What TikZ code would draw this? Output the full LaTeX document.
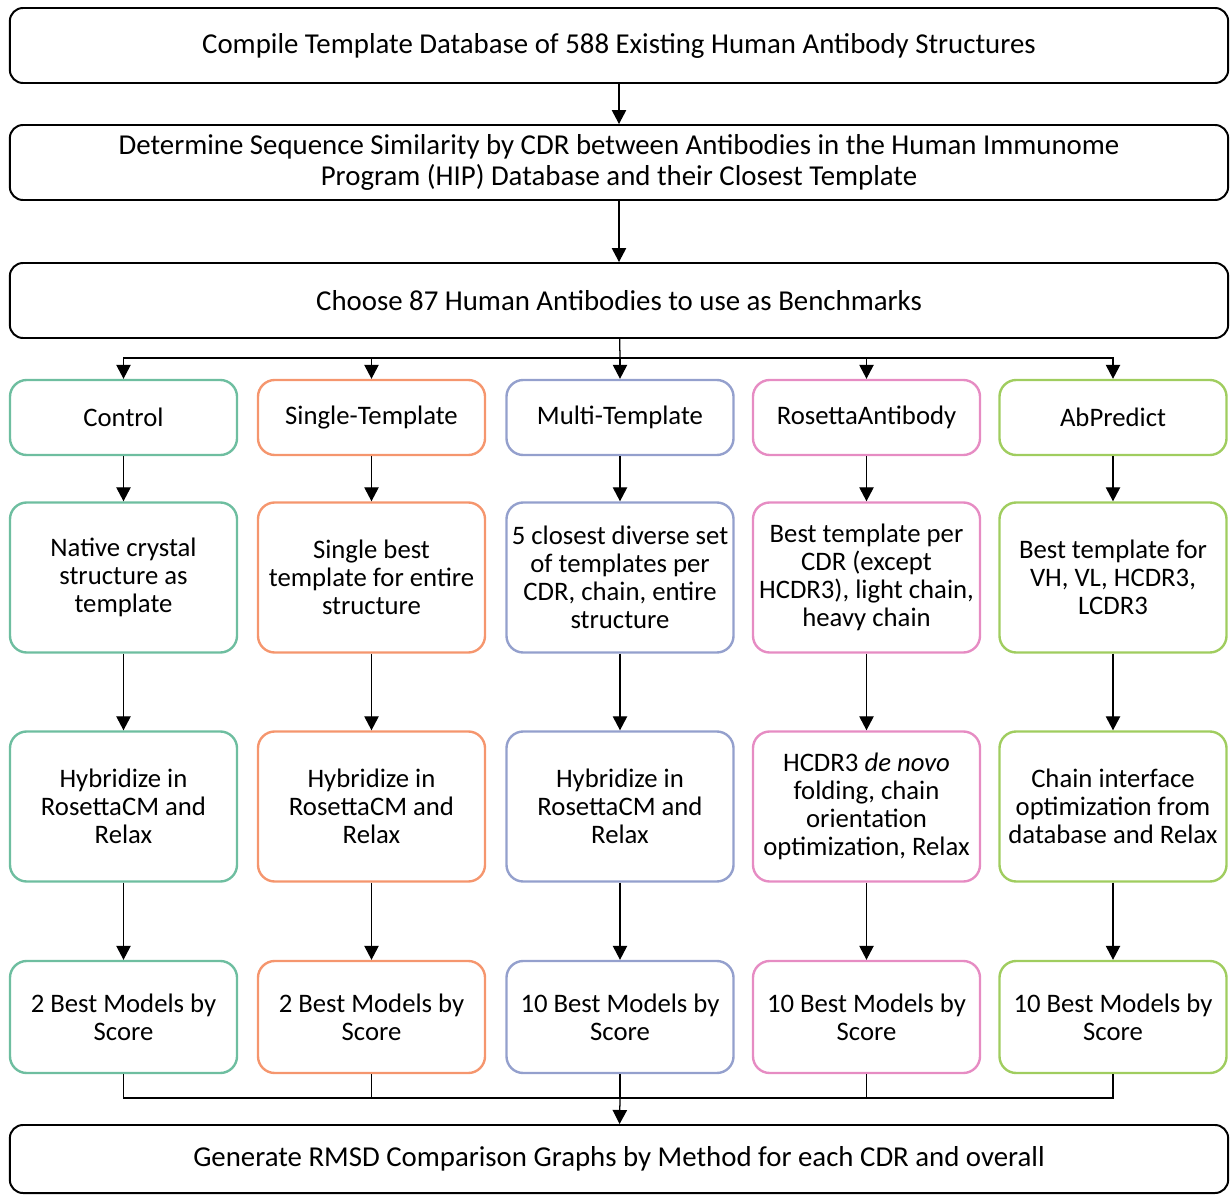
\documentclass[tikz,border=0pt]{standalone}
\usepackage{fontspec}
\setmainfont{Carlito}
\usetikzlibrary{arrows.meta}
\definecolor{ctlcol}{RGB}{110,190,160}
\definecolor{sglcol}{RGB}{245,150,110}
\definecolor{mltcol}{RGB}{148,160,205}
\definecolor{roscol}{RGB}{230,140,195}
\definecolor{abpcol}{RGB}{160,205,95}
\tikzset{
	stage/.style  = {draw, line width=1.4pt, rounded corners=0.33cm,
		minimum width=30.45cm, align=center,
		font=\fontsize{20.5}{21.5}\selectfont}, % black full-width step
	method/.style = {draw=#1, line width=1.7pt, rounded corners=0.42cm,
		minimum width=5.675cm, align=center, inner sep=2pt}, % coloured step
	rowa/.style   = {minimum height=1.875cm},
	rowb/.style   = {minimum height=3.75cm},
	rowc/.style   = {minimum height=2.8cm},
	flow/.style   = {line width=0.9pt, -{Triangle[length=0.35cm,width=0.36cm]}},
	link/.style   = {line width=0.9pt}
}

\begin{document}
\begin{tikzpicture}[x=0.025cm, y=-0.025cm, font=\fontsize{19}{20}\selectfont]
	\useasboundingbox (0,0) rectangle (1231,1195);
	% Full-width steps
	\node at (619,45.5)[stage, minimum height=1.875cm] (compile) {Compile Template Database of 588 Existing Human Antibody Structures};
	\node at (619,162.5)[stage, minimum height=1.875cm] (similar) {Determine Sequence Similarity by CDR between Antibodies in the Human Immunome\\Program (HIP) Database and their Closest Template};
	\node at (619,300.5)[stage, minimum height=1.875cm] (bench) {Choose 87 Human Antibodies to use as Benchmarks};
	\node at (619,1159)[stage, minimum height=1.7cm] (rmsd) {Generate RMSD Comparison Graphs by Method for each CDR and overall};
	
	% Control
	\node at (123.5,417.5)[method=ctlcol, rowa] (ctl1) {Control};
	\node at (123.5,577.5)[method=ctlcol, rowb] (ctl2) {Native crystal\\structure as\\template};
	\node at (123.5,806.5)[method=ctlcol, rowb] (ctl3) {Hybridize in\\RosettaCM and\\Relax};
	\node at (123.5,1017)[method=ctlcol, rowc] (ctl4) {2 Best Models by\\Score};
	
	% Single-Template
	\node at (371.5,417.5)[method=sglcol, rowa] (sgl1) {Single-Template};
	\node at (371.5,577.5)[method=sglcol, rowb] (sgl2) {Single best\\template for entire\\structure};
	\node at (371.5,806.5)[method=sglcol, rowb] (sgl3) {Hybridize in\\RosettaCM and\\Relax};
	\node at (371.5,1017)[method=sglcol, rowc] (sgl4) {2 Best Models by\\Score};
	
	% Multi-Template
	\node at (620,417.5)[method=mltcol, rowa] (mlt1) {Multi-Template};
	\node at (620,577.5)[method=mltcol, rowb] (mlt2) {5 closest diverse set\\of templates per\\CDR, chain, entire\\structure};
	\node at (620,806.5)[method=mltcol, rowb] (mlt3) {Hybridize in\\RosettaCM and\\Relax};
	\node at (620,1017)[method=mltcol, rowc] (mlt4) {10 Best Models by\\Score};
	
	% RosettaAntibody
	\node at (866.5,417.5)[method=roscol, rowa] (ros1) {RosettaAntibody};
	\node at (866.5,577.5)[method=roscol, rowb] (ros2) {Best template per\\CDR (except\\HCDR3), light chain,\\heavy chain};
	\node at (866.5,806.5)[method=roscol, rowb] (ros3) {HCDR3 \textit{de novo}\\folding, chain\\orientation\\optimization, Relax};
	\node at (866.5,1017)[method=roscol, rowc] (ros4) {10 Best Models by\\Score};
	
	% AbPredict
	\node at (1113,417.5)[method=abpcol, rowa] (abp1) {AbPredict};
	\node at (1113,577.5)[method=abpcol, rowb] (abp2) {Best template for\\VH, VL, HCDR3,\\LCDR3};
	\node at (1113,806.5)[method=abpcol, rowb] (abp3) {Chain interface\\optimization from\\database and Relax};
	\node at (1113,1017)[method=abpcol, rowc] (abp4) {10 Best Models by\\Score};
	
	% Connectors
	\coordinate (fork) at (620,358);
	\coordinate (join) at (620,1098);
	\draw[flow] (compile) -- (similar);
	\draw[flow] (similar) -- (bench);
	\draw[link] (bench) -- (fork);
	\foreach \m in {ctl,sgl,mlt,ros,abp} {
		\draw[flow] (fork) -| (\m1);
		\draw[flow] (\m1) -- (\m2);
		\draw[flow] (\m2) -- (\m3);
		\draw[flow] (\m3) -- (\m4);
		\draw[link] (\m4) |- (join);
	}
	\draw[flow] (join) -- (rmsd);
\end{tikzpicture}
\end{document}
